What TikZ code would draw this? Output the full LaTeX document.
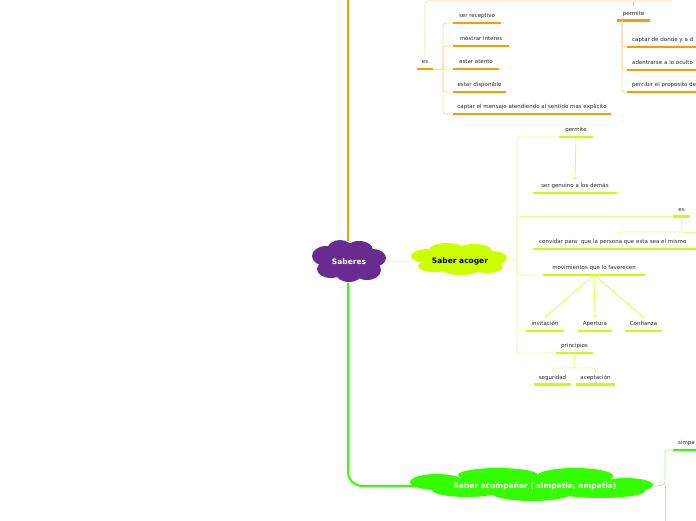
\documentclass[tikz,border=0pt]{standalone}
\usepackage{fontspec}
\setmainfont{DejaVu Sans}
\usetikzlibrary{shapes,arrows,positioning}

\definecolor{orangeT}{HTML}{FF9900}
\definecolor{orangeL}{HTML}{FFD79A}
\definecolor{ygT}{HTML}{CCFF00}
\definecolor{ygL}{HTML}{E6FF8C}
\definecolor{ygA}{HTML}{D6FF33}
\definecolor{greenT}{HTML}{33FF00}
\definecolor{greenL}{HTML}{9CFF85}
\definecolor{purpleS}{HTML}{6A2B90}

\begin{document}
\begin{tikzpicture}[x=1pt, y=-1pt,
    leaf/.style={font=\fontsize{5.5}{6}\selectfont, text=black!85, inner xsep=0pt, inner ysep=4.2pt,
        text height=3.8pt, text depth=1pt, anchor=south,
        append after command={(\tikzlastnode.south west) edge[draw=#1, line width=2.6pt] (\tikzlastnode.south east)}},
    lleaf/.style={leaf=#1, anchor=south west, inner xsep=5pt, align=left},
    topic/.style={ellipse, draw=none, font=\bfseries\fontsize{7.5}{8}\selectfont, inner sep=0pt},
    linkO/.style={draw=orangeL, line width=0.7pt, rounded corners=3pt},
    linkY/.style={draw=ygL, line width=0.7pt, rounded corners=3pt},
    linkG/.style={draw=greenL, line width=0.7pt, rounded corners=3pt},
    arrowY/.style={->, draw=ygA, line width=0.7pt},
    mainO/.style={draw=orangeT, line width=2.2pt},
    mainG/.style={draw=greenT, line width=2pt, rounded corners=14pt}
]
\useasboundingbox (0,0) rectangle (696,520);
\clip (0,0) rectangle (696,520);

% Cloud puffs
\foreach \x/\y/\a/\b in {326/256/14/10, 340/250/13/10, 359/250/14/9, 373/258/13/9,
    367/270/14/10, 349/272/14/10, 331/269/14/9, 348/261/26/13}
  \fill[purpleS] (\x,\y) ellipse [x radius=\a, y radius=\b];
\foreach \x/\y/\a/\b in {428/256/17/7, 447/250/18/7, 474/251/18/7, 491/258/16/7,
    487/267/16/6, 461/268/20/7, 435/266/17/6, 459/259/38/10}
  \fill[ygT] (\x,\y) ellipse [x radius=\a, y radius=\b];
\foreach \x/\y/\a/\b in {437/482/27/8, 498/475/40/7, 575/476/38/8, 626/485/27/7,
    600/491/45/7, 532/493/40/8, 467/490/35/7, 532/485/100/10}
  \fill[greenT] (\x,\y) ellipse [x radius=\a, y radius=\b];

% Clouds
\node[topic, text=white, minimum width=73pt, minimum height=42pt]  (saberes) at (349,262) {Saberes};
\node[topic, minimum width=96pt, minimum height=32pt]              (acoger)  at (460,261) {Saber acoger};
\node[topic, text=white, minimum width=240pt, minimum height=34pt] (acomp)   at (535,486) {Saber acompañar ( simpatia, empatia)};

% Orange branch
\node[leaf=orangeT, minimum width=16pt]  (esO)     at (425,69)    {es};
\node[leaf=orangeT, minimum width=48pt]  (recep)   at (477,23)    {ser receptivo};
\node[leaf=orangeT, minimum width=56pt]  (interes) at (481,46)    {mostrar interes};
\node[leaf=orangeT, minimum width=46pt]  (atento)  at (476,69)    {estar atento};
\node[leaf=orangeT, minimum width=53pt]  (dispon)  at (479.5,92)  {estar disponible};
\node[leaf=orangeT, minimum width=158pt] (mensaje) at (532,114)   {captar el mensaje atendiendo al sentido mas explicito};
\node[leaf=orangeT, minimum width=33pt]  (permO)   at (633.5,20.5) {permite};
\node[lleaf=orangeT, text width=150pt]   (captar)  at (627,47)    {captar de donde y a d};
\node[lleaf=orangeT, text width=150pt]   (adentr)  at (627,70)    {adentrarse a lo oculto};
\node[lleaf=orangeT, text width=150pt]   (percib)  at (627,92)    {percibir el proposito de};

% Saber acoger branch
\node[leaf=ygT, minimum width=33pt]  (permY)   at (576,137)     {permite};
\node[leaf=ygT, minimum width=84pt]  (genuino) at (575,193)     {ser genuino a los demás};
\node[leaf=ygT, minimum width=17pt]  (esY)     at (681.5,216.5) {es};
\node[lleaf=ygT, inner xsep=6pt, text width=158pt] (convidar) at (533,249) {convidar para\ \ que la persona que esta sea el mismo};
\node[leaf=ygT, minimum width=101pt] (movim)   at (594,275)     {movimientos que lo favorecen};
\node[leaf=ygT, minimum width=38pt]  (invit)   at (545,331)     {invitación};
\node[leaf=ygT, minimum width=34pt]  (apert)   at (595,331)     {Apertura};
\node[leaf=ygT, minimum width=37pt]  (confi)   at (643.5,331)   {Confianza};
\node[leaf=ygT, minimum width=37pt]  (princ)   at (574.5,353)   {principios};
\node[leaf=ygT, minimum width=37pt]  (segur)   at (552.5,384.5) {seguridad};
\node[leaf=ygT, minimum width=39pt]  (acept)   at (595.5,384.5) {aceptación};

% Saber acompanar branch
\node[lleaf=greenT, text width=60pt] (simpa) at (673,450) {simpa};

% Forks and free ends
\coordinate (topS)   at (348,-5);
\coordinate (topA)   at (672,1);
\coordinate (topP)   at (710,-1);
\coordinate (forkO)  at (443,69);
\coordinate (forkP)  at (622,20.5);
\coordinate (jY)     at (517,259);
\coordinate (esYfork) at (681.5,232);
\coordinate (esYout) at (710,232);
\coordinate (jG)     at (665,485);
\coordinate (jGout)  at (665,530);

% Main lines
\draw[mainO] (saberes.north -| topS) -- (topS);
\draw[mainG] (saberes.south -| topS) |- (acomp.west);

% Orange links
\draw[linkO] (esO.north) |- (topA);
\draw[linkO] (permO.north) |- (topP);
\draw[linkO] (esO.south east) -- (forkO);
\foreach \n in {recep,interes,atento,dispon,mensaje}
  \draw[linkO] (forkO) |- (\n.south west);
\foreach \n in {captar,adentr,percib}
  \draw[linkO] (forkP) |- (\n.south west);

% Yellow links
\draw[linkY] (saberes.east) -- (acoger.west);
\draw[linkY] (acoger.east) -- (jY);
\foreach \n in {permY,esY,movim,princ}
  \draw[linkY] (jY) |- (\n.south west);
\draw[linkY] (esY.south) -- (esYfork) -| (convidar.north);
\draw[linkY] (esYfork) -- (esYout);
\draw[linkY, rounded corners=2pt] (princ.south) -- ++(0,15) -| (segur.north);
\draw[linkY, rounded corners=2pt] (princ.south) -- ++(0,15) -| (acept.north);

% Arrows
\draw[arrowY] (permY.south) -- (genuino.north);
\foreach \n in {invit,apert,confi}
  \draw[arrowY] (movim.south) -- (\n.north);

% Green links
\draw[linkG] (acomp.east) -- (jG) |- (simpa.south west);
\draw[linkG] (jG) -- (jGout);

\end{tikzpicture}
\end{document}
